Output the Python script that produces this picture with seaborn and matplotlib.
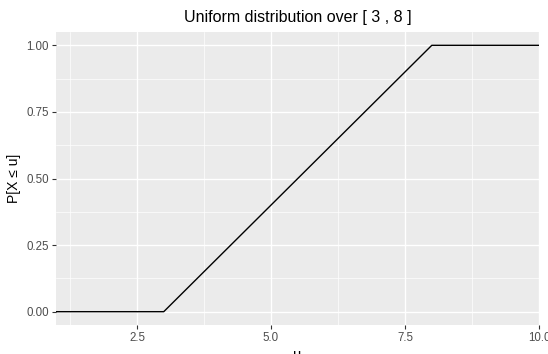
import numpy as np
import pandas as pd
import matplotlib
matplotlib.use("Agg")
import matplotlib.pyplot as plt
import seaborn as sns

# data: CDF of uniform over [3, 8]
u_vals = [0.99, 3.0, 8.0, 10.0]
p_vals = [0.0, 0.0, 1.0, 1.0]
x_ticks = [2.5, 5.0, 7.5, 10.0]
x_tick_labels = ["2.5", "5.0", "7.5", "10.0"]
y_ticks = [0.0, 0.25, 0.5, 0.75, 1.0]
y_tick_labels = ["0.00", "0.25", "0.50", "0.75", "1.00"]
x_minor = [1.25, 3.75, 6.25, 8.75]
y_minor = [0.125, 0.375, 0.625, 0.875]

df = pd.DataFrame({"u": u_vals, "p": p_vals})

sns.set_theme(style="darkgrid")
plt.rcParams['font.family'] = ['Liberation Sans', 'DejaVu Sans']

fig = plt.figure(figsize=(5.48, 3.54), dpi=100)
ax = fig.add_axes([56/548, 29/354, (539-56)/548, (325-32)/354])
ax.set_facecolor("#EBEBEB")

sns.lineplot(data=df, x="u", y="p", ax=ax, color="black", linewidth=1.0)

ax.set_xlim(0.99, 10.0)
ax.set_ylim(-0.05, 1.05)
ax.set_xticks(x_ticks)
ax.set_xticklabels(x_tick_labels)
ax.set_yticks(y_ticks)
ax.set_yticklabels(y_tick_labels)
ax.set_xticks(x_minor, minor=True)
ax.set_yticks(y_minor, minor=True)
ax.grid(which="major", color="white", linewidth=1.0)
ax.grid(which="minor", color="white", linewidth=0.5)
ax.set_axisbelow(True)
for s in ax.spines.values():
    s.set_visible(False)

ax.tick_params(axis="both", which="major", length=3, width=0.8, color="#333333",
               labelsize=8.3, labelcolor="#4D4D4D", pad=2, bottom=True, left=True)
ax.tick_params(axis="both", which="minor", length=0)

ax.set_title("Uniform distribution over [ 3 , 8 ]", fontsize=11.5, color="black", pad=7)
ax.set_ylabel("P[X \u2264 u]", fontsize=10, color="black", labelpad=4)
ax.set_xlabel("u", fontsize=10.5, color="black", labelpad=3)

fig.savefig("out.png", dpi=100)
